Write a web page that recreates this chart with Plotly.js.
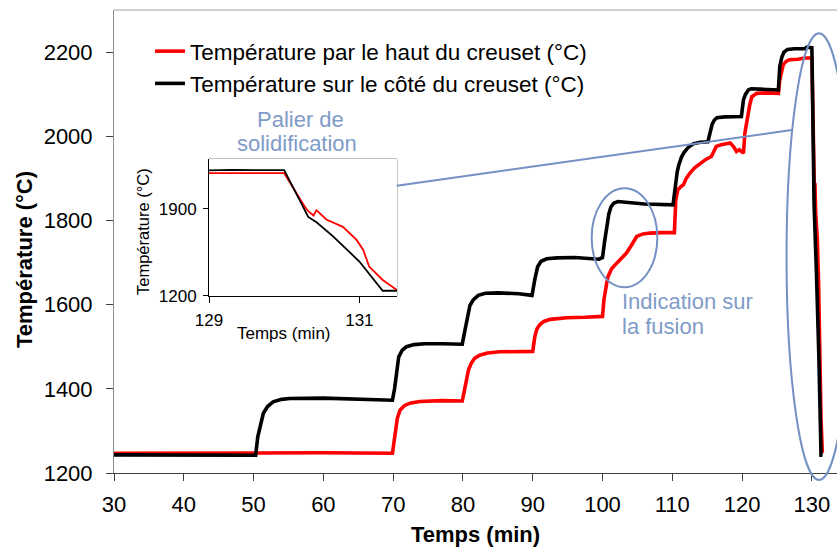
<!DOCTYPE html>
<html>
<head>
<meta charset="utf-8">
<script src="https://cdn.plot.ly/plotly-3.0.1.min.js"></script>
<style>html,body{margin:0;padding:0;background:#fff;}#chart{width:837px;height:547px;}</style>
</head>
<body>
<div id="chart"></div>
<script>
// ---- Data ----
var seriesTopName = "Température par le haut du creuset (°C)";
var seriesSideName = "Température sur le côté du creuset (°C)";

var timeTop = [30, 40, 50, 60, 69.9, 70.1, 70.3, 70.6, 71.0, 71.6, 72.4, 73.8, 77, 79.9, 80.2, 80.5, 80.8, 81.2, 81.7, 82.4, 83.5, 85.3, 88, 90.0, 90.3, 90.6, 91.0, 91.6, 92.5, 94.9, 97.5, 100.0, 100.2, 100.4, 100.6, 100.8, 101.3, 102.0, 102.7, 103.4, 104.1, 104.9, 105.8, 106.8, 108.5, 110.3, 110.5, 110.8, 111.2, 111.6, 112.0, 112.5, 113.2, 114.0, 114.8, 115.6, 116.0, 116.3, 117.0, 118.3, 118.8, 119.2, 119.6, 120.2, 120.4, 120.6, 120.9, 121.1, 121.4, 122.1, 123.5, 125.2, 125.4, 125.7, 125.9, 126.3, 126.8, 128.0, 129.0, 130.0, 130.27, 130.32, 130.39, 130.43, 130.56, 130.78, 130.96, 131.05, 131.13, 131.31, 131.5];
var tempTop = [1247, 1248, 1247, 1248, 1247, 1270, 1302, 1330, 1350, 1360, 1366, 1370, 1372, 1371, 1395, 1421, 1445, 1461, 1473, 1480, 1485, 1488, 1489, 1489, 1524, 1542, 1552, 1560, 1565, 1569, 1570, 1572, 1611, 1635, 1651, 1667, 1685, 1698, 1710, 1722, 1740, 1762, 1768, 1770, 1771, 1771, 1849, 1873, 1880, 1885, 1900, 1912, 1925, 1936, 1945, 1952, 1966, 1976, 1980, 1984, 1975, 1964, 1968, 1960, 2008, 2030, 2055, 2075, 2094, 2102, 2103, 2102, 2134, 2155, 2170, 2178, 2182, 2183, 2186, 2186, 1921, 1881, 1846, 1889, 1814, 1755, 1652, 1571, 1436, 1329, 1248];

var timeSide = [30, 35, 40, 45, 50.3, 50.6, 51.0, 51.4, 52.0, 52.8, 54, 55.2, 60, 65, 69.9, 70.2, 70.5, 70.8, 71.3, 71.9, 73, 74.5, 77, 79.9, 80.3, 80.6, 81.0, 81.5, 82.2, 83.2, 85, 88, 89.9, 90.3, 90.7, 91.2, 92, 93.5, 96, 99.5, 100.0, 100.3, 100.6, 100.9, 101.2, 101.6, 102.2, 103.5, 106, 110.1, 110.4, 110.7, 110.9, 111.3, 111.7, 112.3, 113.0, 114.0, 115.1, 115.4, 115.7, 116.0, 116.4, 117.5, 119.9, 120.2, 120.5, 120.9, 121.3, 122.5, 125.2, 125.4, 125.7, 126.0, 126.5, 127.5, 129.0, 129.3, 130.0, 130.32, 130.43, 130.65, 131.0, 131.31, 131.5];
var tempSide = [1243, 1243, 1244, 1243, 1242, 1286, 1318, 1342, 1358, 1369, 1375, 1377, 1378, 1376, 1373, 1400, 1440, 1476, 1492, 1500, 1505, 1507, 1507, 1506, 1540, 1570, 1598, 1612, 1622, 1627, 1628, 1626, 1622, 1660, 1690, 1703, 1709, 1711, 1712, 1708, 1712, 1750, 1785, 1815, 1832, 1841, 1845, 1843, 1839, 1837, 1880, 1915, 1930, 1950, 1962, 1974, 1982, 1986, 1987, 2010, 2028, 2038, 2044, 2046, 2047, 2087, 2100, 2110, 2113, 2112, 2110, 2166, 2188, 2200, 2206, 2208, 2208, 2212, 2210, 1835, 1792, 1679, 1477, 1242, 1242];

var xTickVals = [30, 40, 50, 60, 70, 80, 90, 100, 110, 120, 130];
var yTickVals = [1200, 1400, 1600, 1800, 2000, 2200];
var insetXTicks = [129, 131];
var insetYTicks = [1200, 1900];

// ---- Styling ----
var FONT = "Liberation Sans, Arial, sans-serif";
var BLUE_TXT = "#7f9bc8";
var BLUE_LINE = "#7391c2";

var traces = [
  {x: timeTop, y: tempTop, name: seriesTopName, type: "scatter", mode: "lines",
   line: {color: "#ff0000", width: 3.6}, xaxis: "x", yaxis: "y"},
  {x: timeSide, y: tempSide, name: seriesSideName, type: "scatter", mode: "lines",
   line: {color: "#000000", width: 3.6}, xaxis: "x", yaxis: "y"},
  {x: timeTop, y: tempTop, name: seriesTopName, type: "scatter", mode: "lines",
   line: {color: "#ff0000", width: 1.8}, xaxis: "x2", yaxis: "y2", showlegend: false},
  {x: timeSide, y: tempSide, name: seriesSideName, type: "scatter", mode: "lines",
   line: {color: "#000000", width: 1.8}, xaxis: "x2", yaxis: "y2", showlegend: false}
];

var inX0 = 0.1314, inX1 = 0.3914, inY0 = 0.3823, inY1 = 0.6782;
function px(p) { return (p - 114) / 723; }
function py(p) { return (473 - p) / 463; }

var layout = {
  width: 837, height: 547,
  margin: {l: 114, r: 0, t: 10, b: 74, pad: 0},
  paper_bgcolor: "#ffffff", plot_bgcolor: "#ffffff",
  font: {family: FONT, size: 22, color: "#000"},
  showlegend: true,
  legend: {x: 0.0498, y: 0.9568, xanchor: "left", yanchor: "top",
           bgcolor: "rgba(0,0,0,0)", borderwidth: 0,
           font: {family: FONT, size: 22.5, color: "#000"}},
  xaxis: {
    domain: [0, 1], range: [30, 133.6], tickmode: "array", tickvals: xTickVals,
    showgrid: false, zeroline: false, showline: true, linecolor: "#404040", linewidth: 1,
    ticks: "outside", ticklen: 7, tickcolor: "#404040", ticklabelstandoff: 5,
    tickfont: {family: FONT, size: 22, color: "#000"},
    title: {text: "<b>Temps (min)</b>", standoff: 12,
            font: {family: FONT, size: 22, color: "#000"}}
  },
  yaxis: {
    domain: [0, 1], range: [1200, 2300], tickmode: "array", tickvals: yTickVals,
    showgrid: false, zeroline: false, showline: true, linecolor: "#8c8c8c", linewidth: 1,
    ticks: "outside", ticklen: 7, tickcolor: "#404040", ticklabelstandoff: 9,
    tickfont: {family: FONT, size: 22, color: "#000"}
  },
  xaxis2: {
    domain: [inX0, inX1], anchor: "y2", range: [129, 131.5], tickmode: "array", tickvals: insetXTicks,
    showgrid: false, zeroline: false, showline: true, linecolor: "#000", linewidth: 1,
    ticks: "outside", ticklen: 6, tickcolor: "#000", ticklabelstandoff: 3,
    tickfont: {family: FONT, size: 17, color: "#000"}
  },
  yaxis2: {
    domain: [inY0, inY1], anchor: "x2", range: [1200, 2300], tickmode: "array", tickvals: insetYTicks,
    showgrid: false, zeroline: false, showline: true, linecolor: "#000", linewidth: 1,
    ticks: "outside", ticklen: 5, tickcolor: "#000", ticklabelstandoff: 3,
    tickfont: {family: FONT, size: 17, color: "#000"}
  },
  shapes: [
    {type: "line", xref: "paper", yref: "paper", x0: 0, x1: 1, y0: 1, y1: 1,
     line: {color: "#c0c0c0", width: 1.5}},
    {type: "rect", xref: "paper", yref: "paper", x0: inX0, x1: inX1, y0: inY0, y1: inY1,
     line: {color: "#888888", width: 1}, layer: "below"},
    {type: "circle", xref: "paper", yref: "paper", x0: 0.6607, x1: 0.7515, y0: 0.4011, y1: 0.6149,
     line: {color: BLUE_LINE, width: 2}},
    {type: "circle", xref: "paper", yref: "paper", x0: 0.9302, x1: 1.0201, y0: -0.0151, y1: 0.9497,
     line: {color: BLUE_LINE, width: 2}},
    {type: "line", xref: "paper", yref: "paper", x0: 0.3910, y0: 0.6205, x1: 0.9373, y1: 0.7408,
     line: {color: BLUE_LINE, width: 2}}
  ],
  annotations: [
    // main y-axis title
    {text: "<b>Température (°C)</b>", xref: "paper", yref: "paper", x: px(24), y: py(260),
     textangle: -90, xanchor: "center", yanchor: "middle", showarrow: false,
     font: {family: FONT, size: 22, color: "#000"}},
    // inset axis titles
    {text: "Température (°C)", xref: "paper", yref: "paper", x: px(143), y: py(232),
     textangle: -90, xanchor: "center", yanchor: "middle", showarrow: false,
     font: {family: FONT, size: 16.5, color: "#000"}},
    {text: "Temps (min)", xref: "paper", yref: "paper", x: px(283.5), y: py(333),
     xanchor: "center", yanchor: "middle", showarrow: false,
     font: {family: FONT, size: 17, color: "#000"}},
    // callouts
    {text: "Palier de", xref: "paper", yref: "paper", x: px(300), y: py(119),
     xanchor: "center", yanchor: "middle", showarrow: false, font: {family: FONT, size: 22, color: BLUE_TXT}},
    {text: "solidification", xref: "paper", yref: "paper", x: px(297), y: py(143),
     xanchor: "center", yanchor: "middle", showarrow: false, font: {family: FONT, size: 22, color: BLUE_TXT}},
    {text: "Indication sur", xref: "paper", yref: "paper", x: px(620), y: py(301),
     xanchor: "left", yanchor: "middle", showarrow: false, font: {family: FONT, size: 22, color: BLUE_TXT}},
    {text: "la fusion", xref: "paper", yref: "paper", x: px(620), y: py(326),
     xanchor: "left", yanchor: "middle", showarrow: false, font: {family: FONT, size: 22, color: BLUE_TXT}}
  ]
};

Plotly.newPlot("chart", traces, layout, {displayModeBar: false, staticPlot: true});
</script>
</body>
</html>
